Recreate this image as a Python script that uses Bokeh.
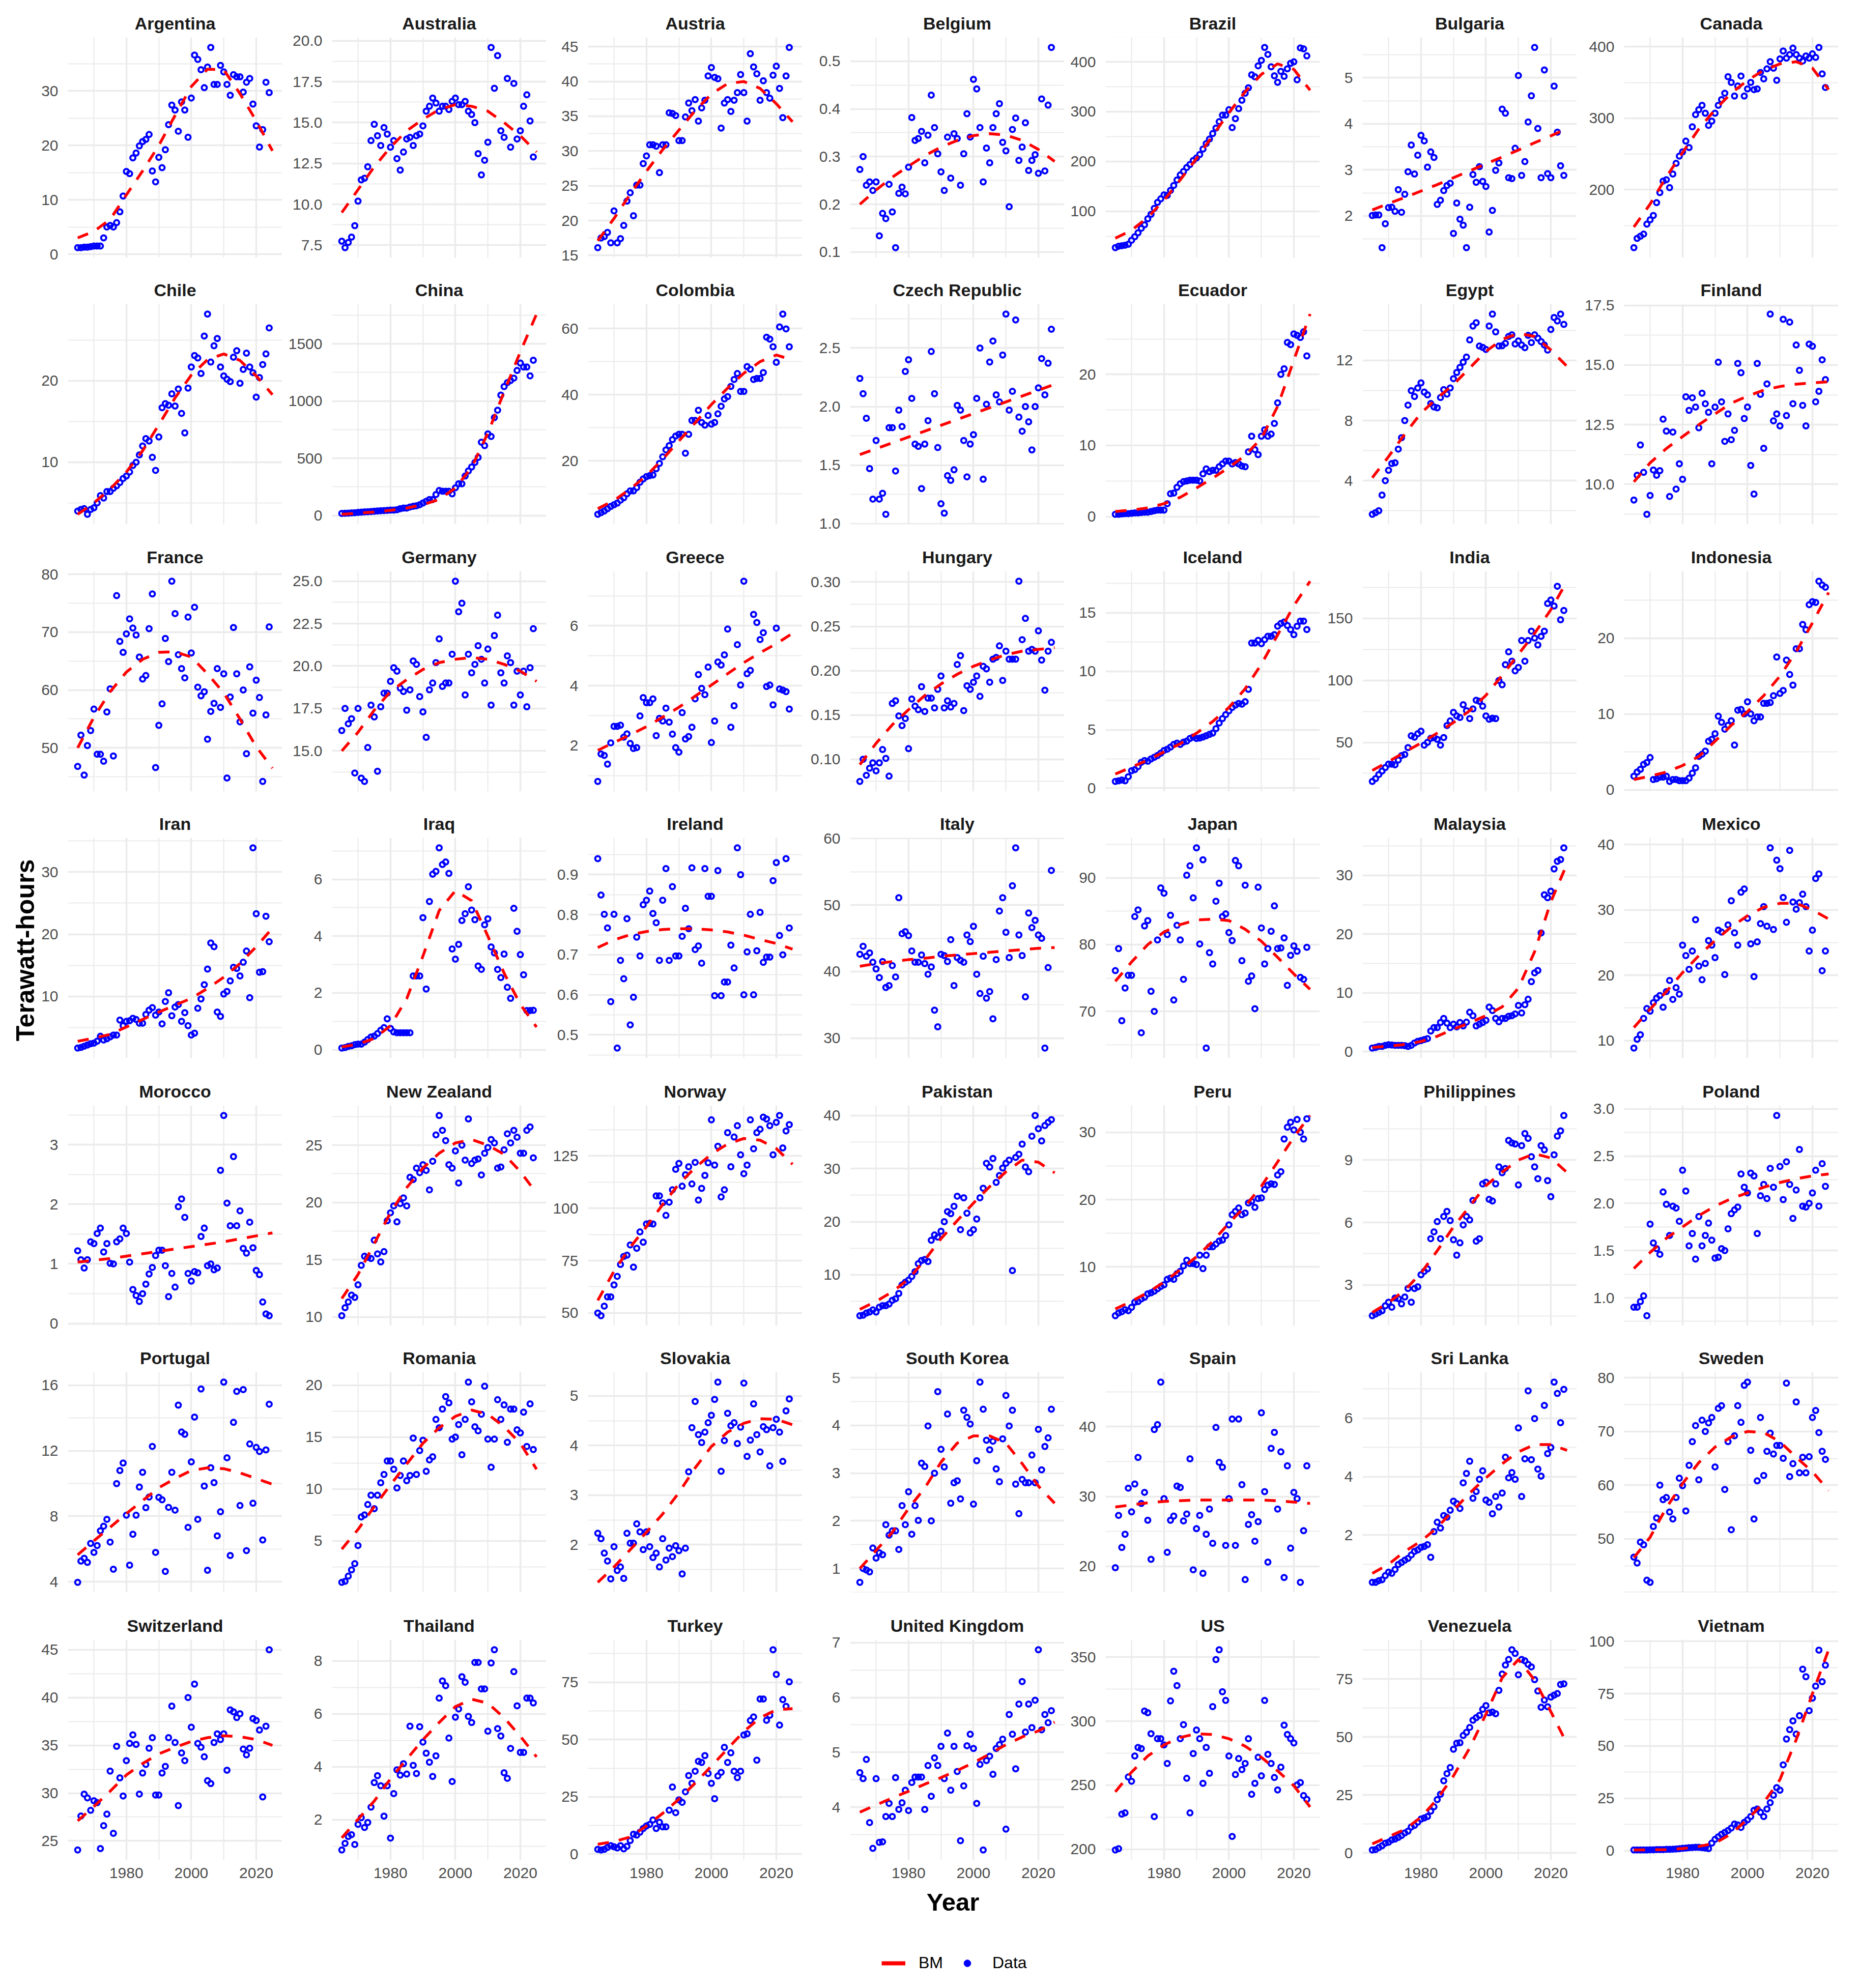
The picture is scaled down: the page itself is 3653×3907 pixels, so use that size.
import math
from bokeh.plotting import figure
from bokeh.layouts import gridplot, row, column
from bokeh.models import Range1d, FixedTicker, Legend, LegendItem
from bokeh.embed import file_html
from bokeh.resources import INLINE
from bokeh.core.properties import value

START_YEAR = 1965
BM_YEARS = [1965, 1970, 1975, 1980, 1985, 1990, 1995, 2000, 2005, 2010, 2015, 2020, 2025]
X_TICKS = [1980, 2000, 2020]
X_MINOR = [1970, 1990, 2010]

ARGENTINA = [1.2,1.2,1.3,1.3,1.4,1.5,1.5,1.5,3.0,5.0, 5.3,5.0,5.8,7.8,10.7,15.2,14.8,17.7,18.6,19.9, 20.7,21.1,22.0,15.3,13.3,17.8,15.9,19.2,23.8,27.4, 26.5,22.6,28.0,26.5,21.5,28.7,36.6,35.8,33.9,30.6, 34.4,38.0,31.2,31.2,34.7,33.5,31.2,29.2,33.0,32.6, 32.6,29.8,31.6,32.3,27.6,23.6,19.7,22.9,31.6,29.7]
ARGENTINA_BM = [3.0,4.2,6.4,10.9,15.3,20.0,25.5,30.8,34.0,33.9,29.5,24.5,19.0]
ARGENTINA_TICKS = ["0","10","20","30"]

AUSTRALIA = [7.75,7.35,7.67,8.0,8.7,10.2,11.5,11.6,12.3,13.9, 14.9,14.2,13.6,14.7,14.3,13.5,13.9,12.8,12.1,13.2, 14.0,14.1,13.6,14.2,14.3,14.8,15.7,16.0,16.5,16.2, 15.7,16.0,16.0,15.8,16.3,16.5,16.1,16.1,16.3,15.7, 15.5,15.0,13.1,11.8,12.7,13.8,19.6,17.1,19.1,14.5, 14.1,17.7,13.5,17.4,14.0,14.5,16.0,16.7,15.1,12.9]
AUSTRALIA_BM = [9.5,10.9,12.3,13.5,14.5,15.2,15.8,16.1,16.0,15.7,15.0,14.2,13.2]
AUSTRALIA_TICKS = ["7.5","10.0","12.5","15.0","17.5","20.0"]

AUSTRIA = [16.1,17.5,17.7,18.3,16.8,21.4,16.8,17.4,19.3,22.8, 24.0,20.7,25.1,25.1,28.2,29.3,30.9,30.9,30.7,26.9, 30.9,30.9,35.5,35.4,35.1,31.5,31.5,34.9,36.9,35.8, 37.4,34.3,36.2,37.3,40.8,42.0,40.6,40.4,33.3,36.9, 37.4,35.7,37.3,38.4,41.0,38.4,34.3,44.0,42.1,41.1, 37.3,40.1,38.4,37.6,40.9,42.2,39.0,34.8,40.8,44.9]
AUSTRIA_BM = [17.1,20.3,23.8,27.1,30.2,33.0,35.8,38.2,39.7,40.0,39.0,36.8,34.2]
AUSTRIA_TICKS = ["15","20","25","30","35","40","45"]

BELGIUM = [.273,.300,.240,.247,.229,.247,.134,.181,.170,.242, .184,.109,.223,.236,.222,.278,.382,.334,.338,.353, .287,.345,.429,.361,.306,.268,.229,.341,.255,.348, .338,.240,.306,.390,.341,.462,.442,.361,.247,.318, .287,.361,.390,.411,.330,.312,.195,.357,.381,.292, .320,.371,.271,.292,.304,.265,.421,.270,.408,.529]
BELGIUM_BM = [.200,.230,.257,.280,.302,.320,.334,.344,.348,.345,.334,.315,.290]
BELGIUM_TICKS = ["0.1","0.2","0.3","0.4","0.5"]

BRAZIL = [27,30,31,32,34,42,49,57,66,73, 85,94,106,118,125,133,132,142,152,163, 173,180,188,194,202,207,214,225,236,245, 256,267,280,293,293,304,268,286,306,323, 337,348,374,370,392,403,429,415,390,372, 359,381,371,386,397,400,364,428,426,412]
BRAZIL_BM = [46,62,88,122,163,206,252,298,340,375,396,385,343]
BRAZIL_TICKS = ["100","200","300","400"]

BULGARIA = [2.01,2.02,2.02,1.31,1.83,2.18,2.19,2.10,2.57,2.08, 2.47,2.96,3.54,2.91,3.32,3.75,3.63,3.06,3.39,3.27, 2.25,2.34,2.55,2.66,2.71,1.62,2.28,1.93,1.80,1.31, 2.19,2.90,2.73,3.07,2.75,2.64,1.65,2.12,2.99,3.15, 4.32,4.23,2.83,2.81,3.47,5.05,2.88,3.18,4.04,4.61, 5.66,3.90,2.83,5.17,2.92,2.83,4.82,3.82,3.09,2.88]
BULGARIA_BM = [2.13,2.27,2.40,2.54,2.68,2.83,2.98,3.13,3.28,3.43,3.59,3.74,3.90]
BULGARIA_TICKS = ["2","3","4","5"]

CANADA = [119,132,135,138,152,158,164,182,196,212, 214,203,222,237,247,253,268,259,288,305, 312,318,307,290,296,307,318,326,335,358, 350,331,345,359,331,341,350,340,341,364, 355,369,379,370,353,383,394,384,389,398, 389,384,380,387,384,390,385,399,362,343]
CANADA_BM = [148,180,218,252,285,312,335,353,367,376,379,370,340]
CANADA_TICKS = ["200","300","400"]

CHILE = [4.0,4.2,4.3,3.6,4.2,4.4,5.0,5.9,5.6,6.4, 6.4,6.8,7.1,7.5,8.0,8.3,8.8,9.6,10.0,10.9, 12.0,12.9,12.6,10.6,9.0,13.1,16.7,17.2,17.0,18.4, 16.9,19.0,16.0,13.6,19.1,21.7,23.1,22.8,20.9,25.5, 28.2,22.3,24.3,25.2,21.7,20.6,20.2,19.9,22.9,23.7, 19.7,21.4,23.4,21.7,21.0,18.0,20.4,22.0,23.3,26.5]
CHILE_BM = [3.6,5.0,6.7,8.8,11.4,14.6,17.9,20.7,22.6,23.3,22.5,20.6,18.3]
CHILE_TICKS = ["10","20"]

CHINA = [18,19,20,22,24,27,29,31,33,35, 37,39,41,43,45,47,47,50,59,65, 65,74,80,85,94,109,124,139,139,183, 218,212,212,212,189,242,277,277,345,389, 424,463,507,640,610,713,690,855,920,1052, 1126,1161,1179,1200,1267,1332,1297,1297,1220,1356]
CHINA_BM = [10,20,30,45,65,95,140,240,420,720,1080,1430,1760]
CHINA_TICKS = ["0","500","1000","1500"]

COLOMBIA = [3.8,4.3,4.8,5.5,6.2,6.7,7.2,8.1,8.8,10.0, 10.9,10.9,11.9,13.5,14.5,15.2,15.5,15.7,17.6,19.2, 21.2,23.3,24.6,26.4,27.5,28.0,28.0,22.3,28.0,32.2, 32.2,35.3,31.6,30.8,33.7,31.1,31.6,34.2,36.5,38.7, 39.4,42.5,44.6,46.4,41.0,41.0,48.5,47.7,44.6,44.9, 44.9,46.7,57.4,56.8,54.5,49.8,60.5,64.4,59.9,54.5]
COLOMBIA_BM = [5.5,8.0,11.5,15.5,20.5,26.0,31.5,37.0,42.0,46.5,50.0,52.0,50.5]
COLOMBIA_TICKS = ["20","40","60"]

CZECH = [2.24,2.11,1.90,1.47,1.21,1.71,1.21,1.26,1.08,1.82, 1.82,1.45,1.97,1.83,2.30,2.40,2.07,1.68,1.66,1.30, 1.68,1.88,2.47,2.11,1.65,1.17,1.09,1.41,1.37,1.46, 2.01,1.97,1.71,1.40,1.68,1.76,2.07,2.50,1.38,2.02, 2.38,2.56,2.10,2.04,2.44,2.79,1.97,2.13,2.74,1.91, 1.79,2.00,1.87,1.63,2.00,2.16,2.41,2.10,2.37,2.66]
CZECH_BM = [1.59,1.64,1.69,1.74,1.79,1.84,1.89,1.94,1.99,2.04,2.09,2.14,2.19]
CZECH_TICKS = ["1.0","1.5","2.0","2.5"]

ECUADOR = [0.3,0.3,0.35,0.4,0.4,0.45,0.5,0.5,0.55,0.6, 0.6,0.7,0.8,0.9,0.9,0.9,1.8,3.2,3.3,4.1, 4.6,4.9,5.0,5.1,5.1,5.1,5.0,6.0,6.7,6.3, 6.5,6.5,7.0,7.4,7.8,7.8,7.4,7.6,7.4,7.1, 7.0,9.1,11.3,9.4,8.7,11.3,12.2,11.3,11.6,13.1, 16.0,20.0,20.8,24.5,24.2,25.7,25.5,25.2,26.0,22.6]
ECUADOR_BM = [0.7,0.9,1.2,1.8,2.7,4.0,5.4,6.9,8.6,11.0,15.5,22.0,28.5]
ECUADOR_TICKS = ["0","10","20"]

EGYPT = [1.76,1.87,2.0,3.04,4.0,4.69,5.14,5.19,6.1,6.86, 8.0,9.03,9.99,9.6,10.17,10.51,9.9,9.71,9.14,8.91, 8.85,9.53,10.06,9.76,10.17,10.79,11.2,11.54,11.89,12.23, 13.37,14.29,14.51,12.96,12.87,12.73,14.29,15.09,13.9,12.96, 12.98,13.14,13.6,13.71,13.1,13.3,13.03,12.85,13.67,13.19, 13.71,13.49,13.26,13.03,12.69,14.06,14.86,14.63,15.09,14.4]
EGYPT_BM = [4.2,5.6,7.1,8.5,9.5,10.4,11.5,12.6,13.4,13.8,13.6,12.7,11.6]
EGYPT_TICKS = ["4","8","12"]

FINLAND = [9.34,10.38,11.65,10.5,8.74,9.53,10.6,10.38,10.57,12.73, 12.23,9.49,12.19,9.8,10.86,10.21,13.67,13.1,13.63,13.24, 12.37,13.82,13.38,13.02,10.86,13.24,15.12,13.46,11.8,12.95, 11.87,12.26,15.07,14.68,12.76,13.24,10.79,9.59,15.07,13.77, 11.51,14.21,17.14,12.66,12.95,12.45,16.92,12.88,16.8,13.38, 15.84,14.78,13.31,12.45,15.88,15.79,13.46,13.9,15.22,14.39]
FINLAND_BM = [10.1,10.9,11.5,12.0,12.5,12.95,13.4,13.7,13.95,14.1,14.2,14.25,14.3]
FINLAND_TICKS = ["10.0","12.5","15.0","17.5"]

FRANCE = [46.8,52.2,45.3,50.4,53.0,56.7,48.9,48.9,47.7,56.2, 60.2,48.6,76.3,68.4,66.5,69.7,72.3,70.7,69.5,65.7, 61.9,62.5,70.6,76.6,46.6,53.9,57.6,68.9,64.9,78.8, 73.2,66.1,63.7,62.1,72.6,66.4,74.3,60.5,59.0,59.7, 51.5,56.3,57.7,63.7,57.0,62.8,44.8,58.8,70.8,62.8, 54.5,60.0,49.0,64.0,56.0,61.7,58.7,44.2,55.7,70.9]
FRANCE_BM = [50.0,55.3,59.7,63.1,65.3,66.5,66.6,65.7,62.8,59.5,55.0,50.2,46.5]
FRANCE_TICKS = ["50","60","70","80"]

GERMANY = [16.2,17.5,16.6,16.9,13.7,17.5,13.4,13.2,15.2,17.7, 17.0,13.8,17.6,18.4,18.4,19.1,19.9,19.7,18.7,18.5, 17.4,18.6,20.3,20.1,18.2,17.3,15.8,18.6,19.0,20.2, 21.6,18.8,19.0,19.0,20.7,25.0,23.2,23.7,18.3,20.7, 19.6,20.1,21.2,20.4,19.0,21.0,17.7,21.8,23.0,19.6, 19.0,20.6,20.2,17.7,19.7,18.3,19.7,17.6,19.9,22.2]
GERMANY_BM = [15.0,16.1,17.4,18.5,19.2,19.8,20.2,20.4,20.5,20.4,20.1,19.7,19.1]
GERMANY_TICKS = ["15.0","17.5","20.0","22.5","25.0"]

GREECE = [0.80,1.72,1.67,1.38,2.09,2.64,2.64,2.68,2.28,2.39, 2.07,1.90,1.93,2.99,3.60,3.43,3.43,3.56,2.33,2.91, 2.82,3.25,2.78,2.38,1.93,1.78,3.10,2.22,2.30,2.61, 3.56,4.37,3.91,3.70,4.62,2.10,2.82,4.79,4.69,5.03, 5.89,2.61,3.33,5.37,4.02,7.49,4.40,4.51,6.38,6.11, 5.54,5.77,3.97,4.02,3.36,5.92,3.89,3.85,3.80,3.22]
GREECE_BM = [1.84,2.1,2.36,2.63,2.95,3.28,3.65,4.02,4.4,4.77,5.1,5.4,5.75]
GREECE_TICKS = ["2","4","6"]

HUNGARY = [.075,.100,.082,.090,.096,.087,.096,.111,.101,.081, .163,.166,.149,.138,.146,.112,.168,.160,.156,.182, .154,.169,.169,.158,.179,.194,.158,.166,.159,.163, .207,.217,.155,.183,.179,.187,.194,.171,.205,.202, .187,.213,.215,.228,.189,.222,.213,.213,.213,.301, .235,.259,.222,.224,.222,.245,.212,.178,.222,.232]
HUNGARY_BM = [.094,.118,.139,.156,.172,.185,.196,.205,.212,.218,.222,.224,.226]
HUNGARY_TICKS = ["0.10","0.15","0.20","0.25","0.30"]

ICELAND = [0.57,0.63,0.69,0.63,0.98,1.49,1.58,1.84,2.21,2.36, 2.30,2.5,2.64,2.79,2.99,3.22,3.33,3.51,3.74,3.85, 3.74,3.94,4.02,4.25,4.37,4.25,4.28,4.37,4.48,4.60, 4.71,5.09,5.57,5.95,6.29,6.61,6.9,7.1,7.24,7.18, 7.39,8.45,12.41,12.41,12.64,12.36,12.7,12.99,12.99,13.13, 13.85,14.08,14.2,13.91,13.56,13.13,13.85,14.28,14.28,13.56]
ICELAND_BM = [1.2,1.8,2.4,3.1,3.8,4.7,5.7,6.9,8.5,10.6,13.1,15.6,17.7]
ICELAND_TICKS = ["0","5","10","15"]

INDIA = [18.5,20.8,24.1,26.9,29.7,32.5,32.5,31.9,35.8,39.4, 40.3,45.8,55.3,54.2,57.0,59.0,47.8,50.0,53.3,53.9, 52.5,47.8,53.9,63.6,67.3,74.2,71.4,70.1,80.4,75.6, 69.2,77.0,84.0,83.1,79.2,71.4,68.7,69.5,69.2,99.9, 96.5,112.7,123.0,115.5,107.7,110.4,132.2,115.5,132.2,139.7, 134.1,128.6,135.5,139.7,162.0,164.8,160.0,175.9,148.9,156.4]
INDIA_BM = [27.4,34.5,42.2,49.5,57.5,66.0,75.6,88.0,104.0,121.0,138.0,157.0,180.0]
INDIA_TICKS = ["50","100","150"]

INDONESIA = [1.8,2.35,2.7,3.35,3.6,4.25,1.36,1.45,1.67,1.67, 1.8,1.1,1.36,1.36,1.2,1.2,1.2,1.54,2.2,2.9, 4.4,4.7,5.1,6.4,6.65,7.4,9.7,8.9,8.0,8.5, 9.1,5.9,10.5,10.6,10.0,11.6,10.0,9.1,9.6,9.6, 11.4,11.4,11.5,12.4,17.5,12.7,13.1,17.1,15.2,13.8, 18.6,18.6,21.8,21.1,24.4,24.8,24.7,27.5,27.0,26.7]
INDONESIA_BM = [1.36,1.8,2.35,3.2,4.4,6.4,8.5,10.3,12.4,15.0,18.2,22.0,26.0]
INDONESIA_TICKS = ["0","10","20"]

IRAN = [1.7,1.8,2.0,2.2,2.4,2.5,2.8,3.6,3.0,3.2, 3.5,3.8,3.8,6.2,5.3,6.0,6.1,6.5,6.3,5.7, 5.7,7.1,7.8,8.2,7.0,7.5,5.6,9.2,10.6,6.9, 8.3,8.7,6.0,7.4,5.3,3.8,4.1,8.1,9.6,11.9, 14.4,18.6,18.0,7.5,6.8,10.4,10.8,12.5,14.7,14.5, 13.3,15.5,17.3,9.8,33.9,23.3,13.9,14.0,22.9,18.8]
IRAN_BM = [2.8,3.3,3.9,5.1,6.3,7.5,8.6,9.7,11.3,13.1,15.3,18.0,21.0]
IRAN_TICKS = ["10","20","30"]

IRAQ = [0.06,0.08,0.12,0.14,0.18,0.2,0.2,0.27,0.36,0.45, 0.48,0.57,0.69,0.78,1.09,0.75,0.63,0.6,0.6,0.6, 0.6,0.6,2.6,2.6,2.6,4.65,2.14,5.22,6.18,6.28, 7.11,6.52,6.61,6.21,3.55,3.19,3.71,4.55,4.79,5.74, 4.92,4.58,2.95,2.83,4.40,4.61,3.62,3.41,2.83,2.54, 3.37,2.2,1.81,4.98,4.17,3.35,2.64,1.38,1.38,1.39]
IRAQ_BM = [0.1,0.2,0.4,0.85,1.8,3.3,4.9,5.6,5.25,4.0,2.7,1.6,0.8]
IRAQ_TICKS = ["0","2","4","6"]

IRELAND = [0.940,0.849,0.801,0.767,0.583,0.801,0.467,0.686,0.640,0.790, 0.525,0.594,0.744,0.697,0.825,0.836,0.859,0.803,0.780,0.686, 0.836,0.915,0.686,0.870,0.697,0.697,0.746,0.816,0.765,0.917, 0.713,0.722,0.679,0.915,0.846,0.846,0.598,0.910,0.598,0.632, 0.632,0.724,0.667,0.967,0.900,0.600,0.707,0.801,0.600,0.710, 0.806,0.681,0.694,0.694,0.885,0.930,0.748,0.700,0.940,0.767]
IRELAND_BM = [.718,.737,.750,.758,.763,.765,.765,.762,.757,.749,.738,.728,.714]
IRELAND_TICKS = ["0.5","0.6","0.7","0.8","0.9"]

ITALY = [42.6,43.8,42.3,42.8,41.4,40.4,39.1,41.5,37.6,37.9, 40.9,39.2,51.1,45.7,46.0,45.4,43.1,41.4,41.4,42.5, 41.2,39.6,40.7,34.2,31.7,42.6,42.4,41.5,44.8,37.9, 42.1,41.7,41.4,45.5,44.5,46.8,39.6,36.7,42.3,36.0, 37.0,32.9,41.8,49.1,51.1,45.9,42.1,52.9,58.6,45.5, 42.4,36.2,48.8,46.6,47.7,45.5,45.0,28.5,40.6,55.2]
ITALY_BM = [40.8,41.2,41.5,41.8,42.0,42.3,42.5,42.7,42.9,43.1,43.3,43.5,43.6]
ITALY_TICKS = ["30","40","50","60"]

JAPAN = [76.1,79.4,68.6,73.5,75.4,75.4,84.2,85.2,66.8,82.8, 83.6,73.0,70.0,80.7,88.5,87.7,81.5,84.4,71.7,82.9, 80.7,74.8,90.4,91.8,87.0,94.5,80.1,92.7,64.5,78.8, 77.1,86.5,89.2,84.2,84.6,81.8,80.6,92.6,91.8,77.6, 88.9,74.5,75.3,70.4,88.6,82.5,77.1,79.4,82.0,85.8, 79.4,79.5,81.0,73.9,78.4,79.8,79.0,75.1,74.8,79.6]
JAPAN_BM = [74.5,77.4,80.0,81.9,83.0,83.7,83.8,83.6,82.3,80.5,78.1,75.6,73.3]
JAPAN_TICKS = ["70","80","90"]

MALAYSIA = [0.58,0.7,0.87,0.87,1.05,1.16,1.1,1.05,1.05,1.05, 1.0,0.87,1.05,1.45,1.74,1.86,2.03,2.2,3.49,4.07, 4.07,4.94,5.64,4.83,4.07,4.65,4.19,4.94,4.36,5.0, 6.69,6.1,4.36,4.65,4.94,5.3,7.56,6.98,5.64,5.06, 5.64,5.64,6.0,6.1,6.4,7.85,6.57,7.97,8.9,11.9, 13.4,13.8,20.2,26.7,26.2,27.3,31.1,32.4,32.7,34.7]
MALAYSIA_BM = [0.7,0.9,1.2,1.7,2.6,3.8,4.9,6.1,7.6,10.8,17.0,25.5,32.0]
MALAYSIA_TICKS = ["0","10","20","30"]

MEXICO = [8.85,10.2,10.9,13.4,14.9,14.5,15.8,16.5,16.9,15.1, 17.5,19.2,16.3,18.1,17.1,24.6,23.0,20.9,23.7,28.5, 21.4,19.3,21.8,25.3,24.6,22.7,26.9,26.6,20.1,27.7, 31.4,26.5,24.6,32.7,33.2,28.7,24.8,19.8,25.1,27.9, 30.5,27.5,39.5,27.0,37.6,36.3,31.9,28.1,39.1,31.2, 30.1,31.1,32.4,30.5,23.7,26.9,34.8,35.5,20.7,23.7]
MEXICO_BM = [12.0,14.8,17.5,20.4,23.0,25.3,27.4,29.1,30.4,31.0,31.0,30.0,28.6]
MEXICO_TICKS = ["10","20","30","40"]

MOROCCO = [1.22,1.07,0.93,1.07,1.37,1.34,1.51,1.6,1.2,1.34, 1.01,1.0,1.37,1.42,1.6,1.51,1.03,0.57,0.47,0.37, 0.5,0.66,0.83,0.94,1.14,1.23,1.23,0.97,0.45,0.84, 0.61,1.96,2.09,1.78,0.84,0.71,0.87,0.85,1.46,1.6, 0.97,1.0,0.9,0.93,2.57,3.49,2.02,1.64,2.8,1.64, 1.89,1.26,1.18,1.7,1.27,0.89,0.82,0.36,0.16,0.13]
MOROCCO_BM = [1.03,1.06,1.09,1.13,1.17,1.21,1.25,1.29,1.33,1.37,1.42,1.47,1.52]
MOROCCO_TICKS = ["0","1","2","3"]

NEW_ZEALAND = [10.1,10.8,11.3,11.9,11.7,12.8,14.5,15.3,15.2,15.1, 16.7,15.5,14.8,15.7,18.4,19.1,19.7,18.3,19.9,20.4, 19.7,22.2,22.0,23.0,22.6,23.3,22.8,21.1,23.6,25.9, 27.6,26.3,25.4,23.3,23.0,24.5,21.7,25.0,23.7,27.3, 23.4,23.7,23.8,22.4,24.3,24.8,25.5,25.2,23.0,23.1, 24.6,26.0,25.2,26.3,25.7,24.3,24.3,26.3,26.6,23.9]
NEW_ZEALAND_BM = [11.6,13.7,16.4,19.1,21.3,23.0,24.3,25.2,25.5,25.0,24.2,22.7,20.8]
NEW_ZEALAND_TICKS = ["10","15","20","25"]

NORWAY = [50,48.7,53.3,57.7,57.7,63.4,67.5,73.2,77,77.6, 82.5,71.9,80.9,88.7,83.8,92.5,92.8,92.5,105.9,105.9, 102.6,96.6,102.9,108.8,118.6,121.4,110.5,116,119.8,111.6, 121.9,103.9,109.5,115.7,121.7,142.2,120.6,129.6,105.4,108.8, 136.1,119.8,134,139.4,125.5,116.5,120.6,142.2,128.4,136.1, 137.7,143.5,142.6,139.4,125.5,141,144.3,128.8,136.9,139.9]
NORWAY_BM = [56,70,81.4,91.2,101.8,111.6,119.4,125.8,130.7,133.3,132.5,128.5,121]
NORWAY_TICKS = ["50","75","100","125"]

PAKISTAN = [2.3,2.4,2.8,3.0,3.4,3.0,3.9,4.2,4.2,4.5, 5.2,5.5,6.5,8.1,8.6,9.0,9.7,10.6,12.1,12.7, 12.9,12.5,16.5,17.5,17.1,18.2,20.0,21.9,21.5,22.9, 24.8,18.5,24.5,21.6,17.9,18.5,20.5,24.5,26.3,31.0, 30.3,31.9,27.4,28.7,30.1,31.0,31.6,10.8,32.1,32.7, 34.6,30.3,29.4,36.1,40.0,37.5,35.2,38.1,38.7,39.2]
PAKISTAN_BM = [3.5,5.0,6.8,9.2,12.8,16.8,20.2,23.5,26.6,29.4,31.6,31.2,29.2]
PAKISTAN_TICKS = ["10","20","30","40"]

PERU = [2.75,3.15,3.35,3.65,3.5,4.0,4.75,4.85,5.25,5.5, 6.0,6.15,6.4,6.75,7.1,7.35,8.15,8.35,8.15,9.0, 9.35,10.15,11.0,10.5,10.5,10.35,11.75,9.75,11.75,13.0, 13.0,13.4,13.85,14.0,14.65,16.25,17.75,18.25,18.75,17.75, 18.0,19.5,19.75,18.85,20.15,20.25,21.5,22.15,22.35,22.25, 23.65,24.15,29.0,30.75,31.5,30.35,31.9,30.0,29.0,32.0]
PERU_BM = [3.75,4.9,6.2,7.75,9.6,11.5,13.8,16.5,19.0,22.0,25.6,29.3,32.5]
PERU_TICKS = ["10","20","30"]

PHILIPPINES = [1.52,1.6,1.68,1.76,2.0,2.17,1.93,2.37,2.34,2.09, 2.42,2.83,2.17,2.83,2.91,3.49,3.65,3.77,5.22,5.55, 6.04,5.22,6.29,6.53,6.09,5.17,4.43,5.02,5.88,6.29, 6.12,7.06,5.1,5.22,7.85,7.93,7.11,7.03,7.85,8.67, 8.39,8.59,9.94,9.82,9.77,7.8,9.69,10.27,10.04,9.16, 8.67,8.1,9.69,9.49,8.01,7.24,9.25,10.15,10.4,11.14]
PHILIPPINES_BM = [1.68,2.15,2.75,3.57,4.64,5.79,6.78,7.77,8.42,9.0,9.3,9.1,8.4]
PHILIPPINES_TICKS = ["3","6","9"]

POLAND = [0.90,0.90,0.96,1.02,0.81,1.78,1.58,1.52,1.46,2.12, 1.99,1.66,1.97,1.95,1.81,2.35,2.13,1.55,1.68,1.41, 1.86,1.55,1.66,1.79,1.61,1.42,1.43,1.52,1.5,1.73, 1.89,1.93,1.96,2.31,2.17,2.11,2.32,2.29,1.68,2.08, 2.2,2.05,2.37,2.17,2.93,2.39,2.04,2.44,2.2,1.84, 2.14,2.57,1.97,1.96,2.0,2.11,2.35,1.97,2.42,2.18]
POLAND_BM = [1.31,1.48,1.63,1.75,1.87,1.97,2.05,2.11,2.17,2.22,2.26,2.29,2.31]
POLAND_TICKS = ["1.0","1.5","2.0","2.5","3.0"]

PORTUGAL = [3.96,5.26,5.43,5.18,6.34,5.79,6.21,7.11,7.39,7.81, 6.42,4.76,9.99,10.79,11.25,8.06,5.01,6.9,8.06,9.78, 10.68,8.52,9.17,12.26,5.79,9.15,9.0,4.63,8.54,10.68, 8.37,14.78,13.14,13.0,7.32,11.32,14.05,7.81,15.77,9.84, 4.7,10.96,10.05,6.8,8.27,16.19,11.57,5.6,13.73,15.62, 8.65,15.73,5.9,12.41,8.79,12.2,11.95,6.55,12.05,14.84]
PORTUGAL_BM = [5.64,6.5,7.32,8.16,8.95,9.74,10.3,10.79,10.95,10.9,10.65,10.3,9.95]
PORTUGAL_TICKS = ["4","8","12","16"]

ROMANIA = [1.0,1.1,1.6,2.2,2.8,4.55,7.3,7.5,8.5,9.4, 8.1,9.4,10.6,11.4,12.7,12.7,11.9,10.1,11.3,12.7, 10.8,11.3,14.9,11.4,13.7,14.7,11.7,12.8,13.1,16.7, 15.9,17.7,18.9,18.3,14.8,15.0,16.2,13.3,16.7,20.3, 18.4,16.0,15.6,17.2,19.9,14.8,12.1,14.8,18.6,16.7, 18.1,14.5,17.7,17.7,15.7,15.4,17.4,14.1,18.2,13.8]
ROMANIA_BM = [4.2,6.1,8.3,10.4,12.4,14.4,15.9,17.0,17.6,17.2,16.0,14.4,11.9]
ROMANIA_TICKS = ["5","10","15","20"]

SLOVAKIA = [2.23,2.12,1.83,1.67,1.31,1.96,1.48,1.55,1.32,2.23, 2.03,2.03,2.42,2.26,1.9,2.26,1.96,1.74,1.83,1.55, 2.12,1.69,1.93,1.76,1.98,1.88,1.41,1.93,3.47,4.36, 4.89,4.22,4.06,4.27,4.46,4.61,4.93,5.28,3.48,4.10, 4.65,4.4,4.46,4.04,4.37,5.26,3.78,4.11,4.84,4.22, 3.87,4.38,4.32,3.59,4.36,4.53,4.27,3.68,4.7,4.94]
SLOVAKIA_BM = [1.24,1.55,1.9,2.25,2.62,3.05,3.55,3.98,4.27,4.45,4.54,4.53,4.42]
SLOVAKIA_TICKS = ["2","3","4","5"]

SOUTH_KOREA = [0.71,1.0,0.97,0.93,1.43,1.22,1.33,1.29,1.92,1.7, 1.79,1.79,1.4,2.32,1.92,2.61,1.72,2.32,2.01,3.21, 3.14,3.99,2.0,3.0,4.71,3.5,3.13,4.24,2.37,2.8, 2.84,2.46,4.32,4.17,4.03,2.35,3.26,4.91,4.34,3.69, 3.49,3.67,3.09,2.82,3.72,4.63,3.99,4.32,2.77,2.15, 2.87,2.8,2.8,3.38,2.8,3.92,3.07,3.56,3.74,4.34]
SOUTH_KOREA_BM = [1.0,1.38,1.76,2.26,2.69,3.23,3.63,3.78,3.78,3.63,3.2,2.73,2.37]
SOUTH_KOREA_TICKS = ["1","2","3","4","5"]

SPAIN = [19.8,27.3,22.7,24.6,31.2,27.8,31.8,35.6,29.0,30.6, 26.6,21.0,39.6,40.3,46.4,29.7,22.0,26.6,27.2,31.5, 31.3,26.5,27.5,35.4,19.5,25.4,27.3,19.0,24.6,28.2, 23.3,39.9,34.9,34.2,23.0,29.7,41.1,23.0,41.1,31.7, 18.1,26.0,27.4,23.6,26.4,42.0,30.7,20.6,36.9,39.2, 28.2,36.4,18.4,34.4,22.6,30.6,29.7,17.7,25.1,34.4]
SPAIN_BM = [28.5,28.8,29.1,29.3,29.4,29.5,29.5,29.5,29.5,29.5,29.4,29.2,29.0]
SPAIN_TICKS = ["20","30","40"]

SRI_LANKA = [0.38,0.38,0.44,0.47,0.61,0.73,0.69,0.82,0.99,1.06, 1.14,1.2,1.32,1.44,1.49,1.58,1.61,1.67,1.24,2.12, 2.44,2.24,2.67,2.61,2.85,3.16,3.08,2.91,3.79,4.11, 4.53,3.26,3.49,3.91,4.2,3.2,3.12,2.73,3.32,2.96, 3.44,4.67,3.96,4.14,3.91,5.67,3.32,4.61,6.94,4.58, 5.99,4.26,4.02,6.44,4.79,5.0,7.24,6.85,5.85,6.99]
SRI_LANKA_BM = [0.69,1.0,1.44,1.79,2.26,2.85,3.44,3.96,4.44,4.85,5.1,5.1,4.9]
SRI_LANKA_TICKS = ["2","4","6"]

SWEDEN = [46.6,45.5,49.4,48.9,42.3,41.9,52.3,53.9,60.0,57.3, 57.7,55.0,53.7,57.7,61.3,59.9,55.2,63.7,68.1,71.1, 61.0,72.1,70.0,71.6,72.6,63.4,74.3,74.8,59.2,68.1, 51.7,69.2,74.8,71.7,78.6,79.2,66.5,53.7,60.8,72.6, 61.8,66.3,69.7,65.8,67.4,67.4,65.0,79.0,61.6,64.0, 75.5,62.3,65.2,62.3,65.3,72.6,73.9,69.8,66.3,64.8]
SWEDEN_BM = [46.5,50.3,55.8,60.3,64.2,67.1,69.0,70.0,69.8,68.1,65.2,62.5,59.0]
SWEDEN_TICKS = ["40","50","60","70","80"]

SWITZERLAND = [24.05,27.6,29.9,29.5,28.2,29.2,29.0,24.2,26.6,27.8, 32.3,25.8,34.9,31.6,29.7,33.4,35.2,36.1,35.1,29.9, 32.1,33.0,34.7,35.8,29.8,29.8,32.1,32.8,35.8,39.1, 35.3,28.7,34.2,33.4,40.0,36.9,41.4,35.2,34.8,33.8, 31.3,31.0,35.3,36.2,35.6,36.2,32.4,38.7,38.5,37.9, 38.3,34.6,34.0,34.7,37.8,37.6,36.6,29.6,37.0,45.0]
SWITZERLAND_BM = [27.1,28.6,30.2,31.9,33.1,34.1,34.8,35.4,35.8,36.0,35.9,35.6,35.0]
SWITZERLAND_TICKS = ["25","30","35","40","45"]

THAILAND = [0.85,1.1,1.36,1.43,1.06,1.82,2.07,1.7,1.89,2.47, 3.4,3.66,3.28,2.13,3.28,1.3,2.98,3.88,3.68,4.11, 3.72,5.53,4.05,3.74,5.51,4.93,4.51,4.17,3.63,4.41, 6.59,7.24,7.06,5.08,3.44,5.87,6.18,7.4,7.19,5.9, 5.67,7.94,7.94,6.94,6.94,5.34,7.92,8.42,5.44,5.16, 3.77,3.56,4.69,7.59,6.3,4.54,4.54,6.59,6.59,6.41]
THAILAND_BM = [1.31,2.01,2.7,3.54,4.28,5.02,5.67,6.27,6.55,6.4,5.85,5.15,4.37]
THAILAND_TICKS = ["2","4","6","8"]

TURKEY = [2.1,1.8,2.1,2.9,3.7,3.2,2.7,3.7,2.3,3.4, 5.9,8.7,8.3,9.6,11.2,12.3,13.0,14.9,11.2,13.9, 11.9,11.9,19.2,29.3,18.1,23.7,22.6,27.2,34.3,30.9, 36.2,40.5,40.0,43.0,35.2,30.9,24.2,34.1,35.7,46.6, 40.0,44.2,36.2,33.4,36.2,52.0,52.5,58.3,59.9,41.0, 67.7,67.7,58.4,60.6,89.2,78.4,56.3,67.4,64.5,75.2]
TURKEY_BM = [4.3,5.5,7.5,12.3,17.8,24.0,31.0,38.4,46.0,53.5,59.5,63.0,63.5]
TURKEY_TICKS = ["0","25","50","75"]

UNITED_KINGDOM = [4.63,4.52,4.87,3.72,3.25,4.52,3.36,3.37,3.83,4.07, 3.83,4.54,3.96,4.08,4.31,3.94,4.45,4.55,4.55,4.55, 3.96,4.76,4.2,4.9,4.76,5.11,4.52,5.35,4.31,5.11, 4.65,3.39,4.39,5.12,5.33,5.07,4.07,4.78,3.22,4.85, 4.93,4.6,5.07,5.14,5.24,3.6,5.69,5.33,4.7,5.88, 6.29,5.37,5.88,5.45,5.95,6.87,5.41,5.69,5.54,5.76]
UNITED_KINGDOM_BM = [3.91,4.04,4.17,4.29,4.42,4.54,4.67,4.81,4.97,5.14,5.28,5.39,5.55]
UNITED_KINGDOM_TICKS = ["4","5","6","7"]

US = [199.4,200.4,227.4,228.4,256.4,253.1,272.8,279.5,278.6,307.9, 306.6,290.2,225.5,286.3,286.3,281.5,267.0,315.8,339.0,327.8, 286.3,297.3,255.4,228.4,274.7,293.1,286.3,251.5,279.5,259.3, 311.4,348.1,355.8,323.0,316.2,272.8,210.0,258.3,270.8,262.2, 267.0,286.3,242.9,251.5,271.8,257.3,316.2,274.1,267.0,256.0, 246.3,264.1,296.9,289.6,286.3,283.0,250.2,252.1,241.9,239.0]
US_BM = [244.8,260.2,272.8,281.5,287.3,290.2,289.6,286.3,280.5,271.8,261.2,249.6,233.0]
US_TICKS = ["200","250","300","350"]

VENEZUELA = [1.26,1.46,2.3,3.1,4.2,4.6,5.6,6.0,6.7,7.5, 8.6,9.4,11.2,11.9,13.3,14.6,15.1,15.7,18.0,19.9, 23.0,25.3,31.1,34.2,36.8,44.7,47.3,47.5,50.6,52.0, 54.1,57.2,58.3,59.3,61.9,63.5,60.4,60.7,60.0,70.1, 77.1,81.0,83.4,87.6,86.0,76.8,83.4,82.8,81.3,80.2, 74.7,69.8,62.8,65.9,63.0,67.2,68.0,68.7,72.6,72.9]
VENEZUELA_BM = [3.9,7.0,10.1,15.4,23.2,33.2,45.2,59.8,75.5,83.4,74.5,60.9,47.0]
VENEZUELA_TICKS = ["0","25","50","75"]

VIETNAM = [0.3,0.3,0.3,0.3,0.3,0.4,0.4,0.5,0.5,0.5, 0.6,0.6,0.7,0.8,0.9,1.1,1.2,1.4,1.5,1.6, 1.6,1.4,1.2,1.0,3.6,5.4,6.6,7.8,8.7,9.6, 10.8,12.7,12.3,11.1,13.5,14.7,16.3,19.3,19.9,18.3, 16.3,19.9,22.9,26.5,30.1,28.9,41.0,53.3,57.8,62.0, 55.7,64.5,86.7,83.1,66.9,72.9,78.6,95.8,80.7,88.6]
VIETNAM_BM = [0.3,0.4,0.5,1.0,2.0,3.6,8.0,15.0,22.9,34.0,53.0,75.0,96.0]
VIETNAM_TICKS = ["0","25","50","75","100"]

PANELS = [
    ("Argentina", ARGENTINA, ARGENTINA_BM, ARGENTINA_TICKS),
    ("Australia", AUSTRALIA, AUSTRALIA_BM, AUSTRALIA_TICKS),
    ("Austria", AUSTRIA, AUSTRIA_BM, AUSTRIA_TICKS),
    ("Belgium", BELGIUM, BELGIUM_BM, BELGIUM_TICKS),
    ("Brazil", BRAZIL, BRAZIL_BM, BRAZIL_TICKS),
    ("Bulgaria", BULGARIA, BULGARIA_BM, BULGARIA_TICKS),
    ("Canada", CANADA, CANADA_BM, CANADA_TICKS),
    ("Chile", CHILE, CHILE_BM, CHILE_TICKS),
    ("China", CHINA, CHINA_BM, CHINA_TICKS),
    ("Colombia", COLOMBIA, COLOMBIA_BM, COLOMBIA_TICKS),
    ("Czech Republic", CZECH, CZECH_BM, CZECH_TICKS),
    ("Ecuador", ECUADOR, ECUADOR_BM, ECUADOR_TICKS),
    ("Egypt", EGYPT, EGYPT_BM, EGYPT_TICKS),
    ("Finland", FINLAND, FINLAND_BM, FINLAND_TICKS),
    ("France", FRANCE, FRANCE_BM, FRANCE_TICKS),
    ("Germany", GERMANY, GERMANY_BM, GERMANY_TICKS),
    ("Greece", GREECE, GREECE_BM, GREECE_TICKS),
    ("Hungary", HUNGARY, HUNGARY_BM, HUNGARY_TICKS),
    ("Iceland", ICELAND, ICELAND_BM, ICELAND_TICKS),
    ("India", INDIA, INDIA_BM, INDIA_TICKS),
    ("Indonesia", INDONESIA, INDONESIA_BM, INDONESIA_TICKS),
    ("Iran", IRAN, IRAN_BM, IRAN_TICKS),
    ("Iraq", IRAQ, IRAQ_BM, IRAQ_TICKS),
    ("Ireland", IRELAND, IRELAND_BM, IRELAND_TICKS),
    ("Italy", ITALY, ITALY_BM, ITALY_TICKS),
    ("Japan", JAPAN, JAPAN_BM, JAPAN_TICKS),
    ("Malaysia", MALAYSIA, MALAYSIA_BM, MALAYSIA_TICKS),
    ("Mexico", MEXICO, MEXICO_BM, MEXICO_TICKS),
    ("Morocco", MOROCCO, MOROCCO_BM, MOROCCO_TICKS),
    ("New Zealand", NEW_ZEALAND, NEW_ZEALAND_BM, NEW_ZEALAND_TICKS),
    ("Norway", NORWAY, NORWAY_BM, NORWAY_TICKS),
    ("Pakistan", PAKISTAN, PAKISTAN_BM, PAKISTAN_TICKS),
    ("Peru", PERU, PERU_BM, PERU_TICKS),
    ("Philippines", PHILIPPINES, PHILIPPINES_BM, PHILIPPINES_TICKS),
    ("Poland", POLAND, POLAND_BM, POLAND_TICKS),
    ("Portugal", PORTUGAL, PORTUGAL_BM, PORTUGAL_TICKS),
    ("Romania", ROMANIA, ROMANIA_BM, ROMANIA_TICKS),
    ("Slovakia", SLOVAKIA, SLOVAKIA_BM, SLOVAKIA_TICKS),
    ("South Korea", SOUTH_KOREA, SOUTH_KOREA_BM, SOUTH_KOREA_TICKS),
    ("Spain", SPAIN, SPAIN_BM, SPAIN_TICKS),
    ("Sri Lanka", SRI_LANKA, SRI_LANKA_BM, SRI_LANKA_TICKS),
    ("Sweden", SWEDEN, SWEDEN_BM, SWEDEN_TICKS),
    ("Switzerland", SWITZERLAND, SWITZERLAND_BM, SWITZERLAND_TICKS),
    ("Thailand", THAILAND, THAILAND_BM, THAILAND_TICKS),
    ("Turkey", TURKEY, TURKEY_BM, TURKEY_TICKS),
    ("United Kingdom", UNITED_KINGDOM, UNITED_KINGDOM_BM, UNITED_KINGDOM_TICKS),
    ("US", US, US_BM, US_TICKS),
    ("Venezuela", VENEZUELA, VENEZUELA_BM, VENEZUELA_TICKS),
    ("Vietnam", VIETNAM, VIETNAM_BM, VIETNAM_TICKS),
]

# ---- layout constants (pixels) ----
FONT = "Liberation Sans"
FRAME_W, FRAME_H = 421, 433
COL_BORDER = [56, 98, 82, 94, 81, 84, 93]
ROW_BOTTOM = [18, 19, 18, 20, 18, 20, 50]
TOP_BORDER = 73
YLAB_W = 77
GRID = "#ebebeb"


def make_panel(name, vals, bm, ticks, c, r):
    years = list(range(START_YEAR, START_YEAR + len(vals)))
    lo = min(min(vals), min(bm))
    hi = max(max(vals), max(bm))
    pad = 0.05 * (hi - lo)
    p = figure(frame_width=FRAME_W, frame_height=FRAME_H,
               x_range=Range1d(1962, 2028), y_range=Range1d(lo - pad, hi + pad),
               output_backend="svg", toolbar_location=None, title=name,
               min_border_left=COL_BORDER[c], min_border_right=0,
               min_border_top=TOP_BORDER, min_border_bottom=ROW_BOTTOM[r])
    p.title.text_font = FONT
    p.title.text_font_size = "34px"
    p.title.text_font_style = "bold"
    p.title.text_color = "#1a1a1a"
    p.title.align = "center"
    p.title.standoff = 17
    p.outline_line_color = None

    maj = [float(t) for t in ticks]
    step = maj[1] - maj[0]
    minor = [maj[0] - step / 2] + [m + step / 2 for m in maj]
    yt = FixedTicker(ticks=maj, minor_ticks=minor)
    xt = FixedTicker(ticks=X_TICKS, minor_ticks=X_MINOR)
    p.yaxis.ticker = yt
    p.ygrid.ticker = yt
    p.xaxis.ticker = xt
    p.xgrid.ticker = xt
    p.yaxis.major_label_overrides = {float(t): t for t in ticks}

    for ax in (p.xaxis, p.yaxis):
        ax.axis_line_color = None
        ax.major_tick_line_color = None
        ax.minor_tick_line_color = None
        ax.major_tick_out = 0
        ax.major_tick_in = 0
        ax.major_label_text_font = FONT
        ax.major_label_text_font_size = "30px"
        ax.major_label_text_color = "#4d4d4d"
    p.yaxis.major_label_standoff = 15
    p.xaxis.major_label_standoff = 11
    if r < 6:
        p.xaxis.visible = False

    for g in (p.xgrid, p.ygrid):
        g.grid_line_color = GRID
        g.grid_line_width = 3.5
        g.minor_grid_line_color = GRID
        g.minor_grid_line_width = 2.2

    p.scatter(years, vals, marker="circle", size=10, line_color="blue",
              line_width=4, fill_color=None)
    p.line(BM_YEARS, bm, line_color="red", line_width=5.5, line_dash="22 20")
    return p


rows = []
for r in range(7):
    cells = []
    for c in range(7):
        name, vals, bm, ticks = PANELS[r * 7 + c]
        cells.append(make_panel(name, vals, bm, ticks, c, r))
    rows.append(cells)

grid = gridplot(rows, toolbar_location=None)

GRID_H = sum(TOP_BORDER + FRAME_H + b for b in ROW_BOTTOM)
TOTAL_W = YLAB_W + sum(b + FRAME_W for b in COL_BORDER)

# y label column
yl = figure(width=YLAB_W, height=GRID_H, x_range=Range1d(0, YLAB_W),
            y_range=Range1d(0, GRID_H), min_border=0,
            output_backend="svg", toolbar_location=None)
yl.axis.visible = False
yl.grid.visible = False
yl.outline_line_color = None
yl.text(x=[49], y=[GRID_H - 1867], text=["Terawatt-hours"], angle=math.pi / 2,
        text_align="center", text_baseline="middle", text_font=value(FONT),
        text_font_style="bold", text_font_size="50px", text_color="black")

# bottom: x label + legend
BOT_H = 180
bf = figure(width=TOTAL_W, height=BOT_H, x_range=Range1d(0, TOTAL_W),
            y_range=Range1d(0, BOT_H), min_border=0,
            output_backend="svg", toolbar_location=None)
bf.axis.visible = False
bf.grid.visible = False
bf.outline_line_color = None
bf.text(x=[1872], y=[BOT_H - 32], text=["Year"], text_align="center",
        text_baseline="middle", text_font=value(FONT), text_font_style="bold",
        text_font_size="49px", text_color="black")

# legend keys: renderers drawn on an off-screen range so only their legend swatches show
bf.extra_y_ranges = {"keys": Range1d(-2000, -1000)}
r_bm = bf.line(x=BM_YEARS, y=ARGENTINA_BM, y_range_name="keys",
               line_color="red", line_width=8)
r_dt = bf.scatter(x=list(range(START_YEAR, START_YEAR + len(ARGENTINA))), y=ARGENTINA,
                  y_range_name="keys", marker="circle", size=12,
                  fill_color="blue", line_color="blue")
legend = Legend(items=[LegendItem(label="BM", renderers=[r_bm]),
                       LegendItem(label="Data", renderers=[r_dt])],
                orientation="horizontal", location=(1732, 9),
                glyph_width=47, glyph_height=34, label_height=34,
                label_standoff=26, spacing=24, padding=0, margin=0,
                border_line_color=None, background_fill_alpha=0,
                label_text_font=FONT, label_text_font_size="32px",
                label_text_color="black")
bf.add_layout(legend)

layout = column(row(yl, grid), bf)

with open("out.html", "w") as f:
    f.write(file_html(layout, INLINE, title="Terawatt-hours"))
